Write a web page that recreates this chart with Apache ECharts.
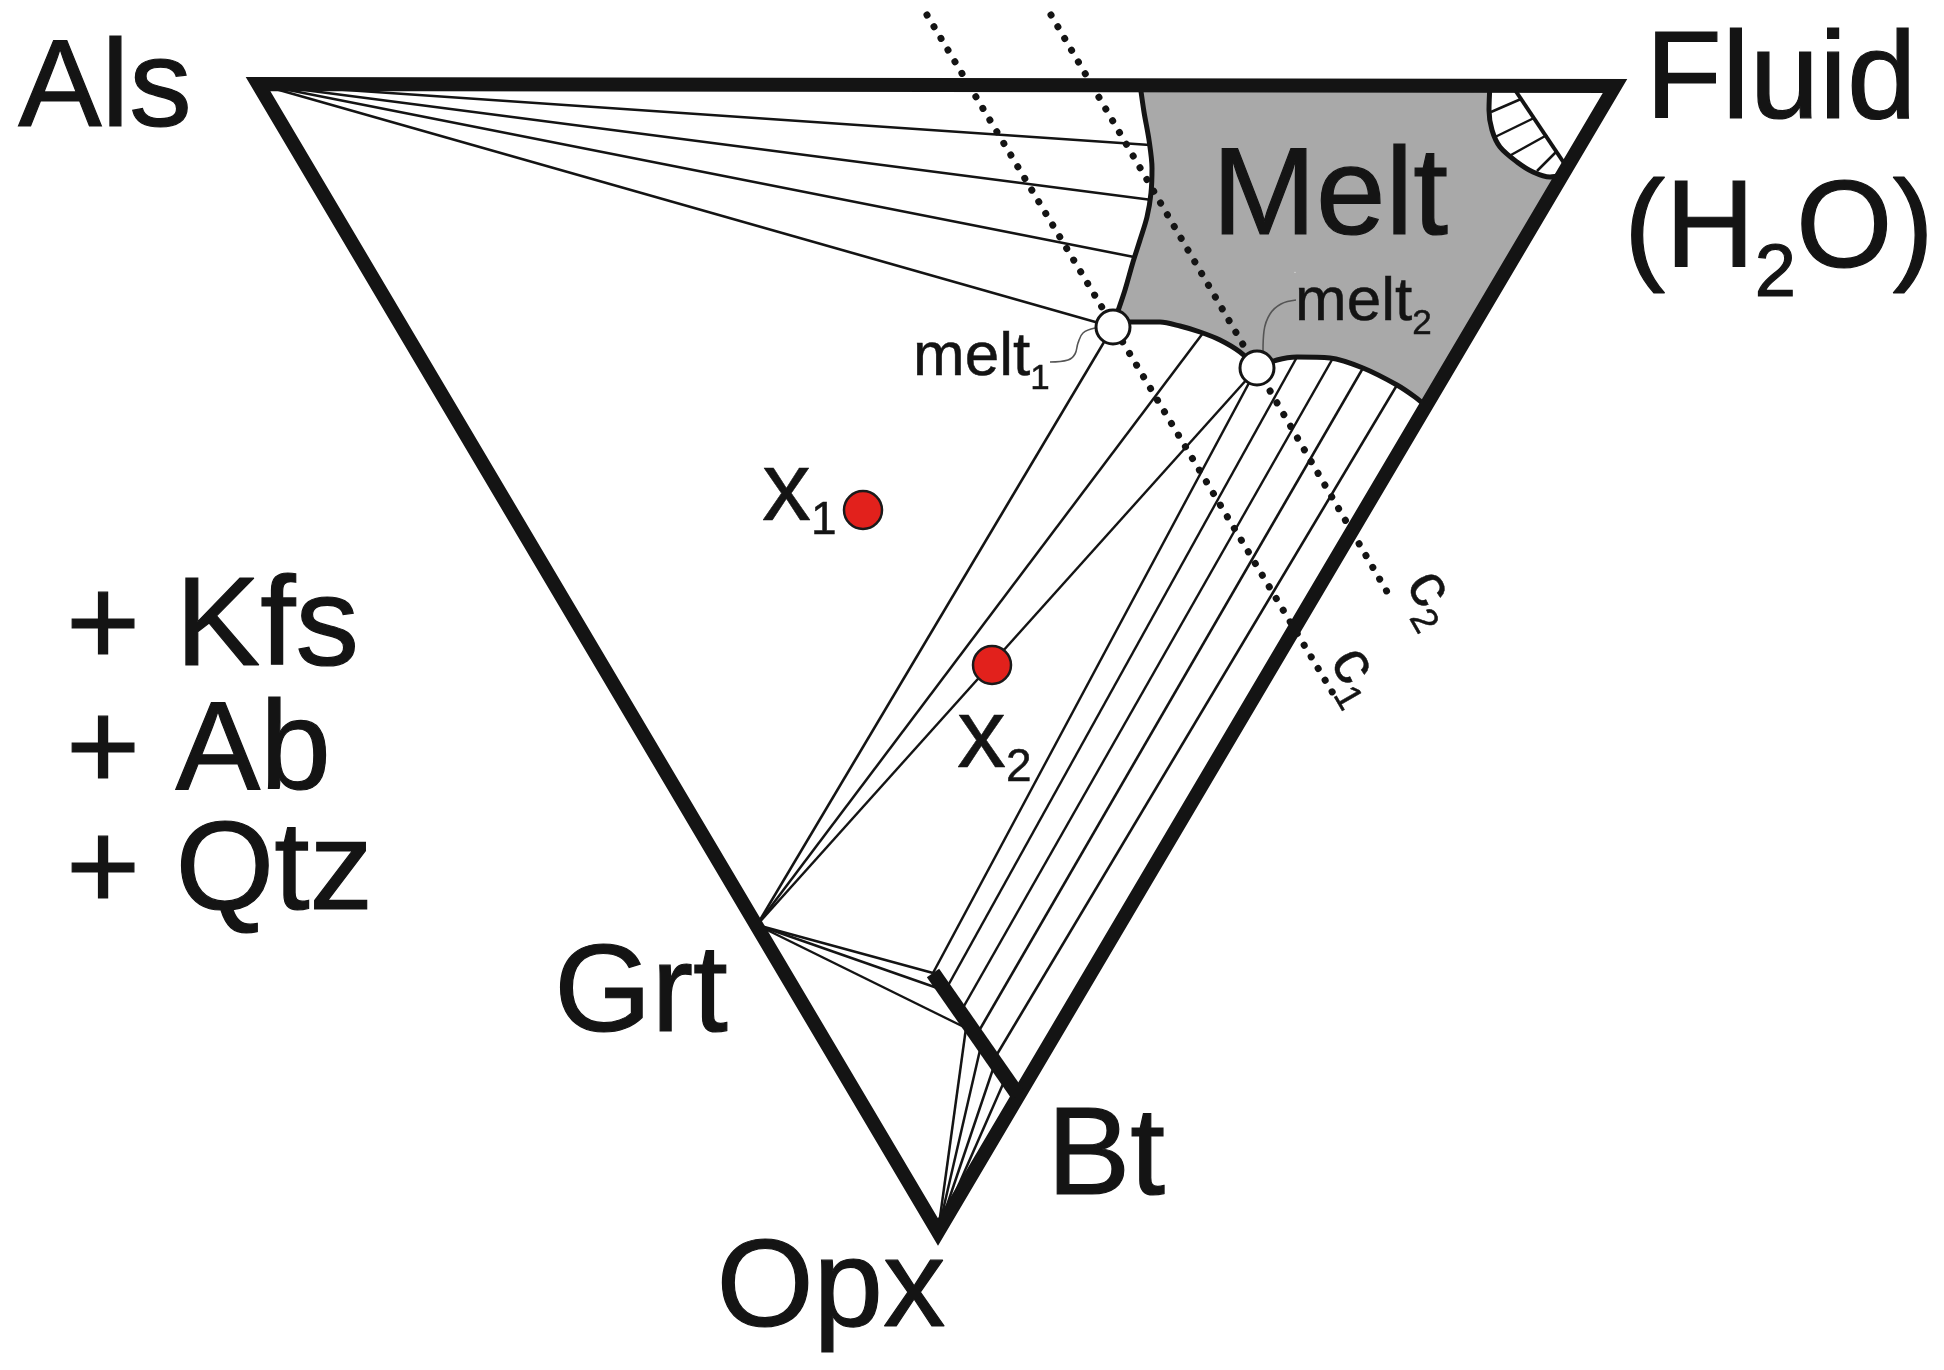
<!DOCTYPE html>
<html>
<head>
<meta charset="utf-8">
<title>Als - Fluid - Opx</title>
<script src="https://cdn.jsdelivr.net/npm/echarts/dist/echarts.min.js"></script>
<style>
html, body { margin: 0; padding: 0; background: #fff; }
#chart { width: 1944px; height: 1370px; }
</style>
</head>
<body>
<div id="chart"></div>
<script>
// diagram units = reference pixels, y axis runs downward
const triangle = [[258, 84], [1615, 86], [938, 1232]]; // Als, Fluid, Opx
const als = [258, 84];
const opx = [938, 1232];
const grt = [757, 925];
const melt1 = [1113, 327];
const melt2 = [1257, 368];
const btLine = [[933, 973], [1018, 1095]];
const samples = [[863, 510], [992, 665]]; // x1, x2

// melt field outline pieces
const meltLeft = [[1140, 84], [1144, 112], [1149, 140], [1152, 168], [1151, 193], [1147, 217], [1140, 240], [1133, 262], [1125, 290], [1117, 314], [1113, 327]];
const meltBottom1 = [[1113, 327], [1130, 322], [1160, 322], [1180, 326], [1200, 332], [1220, 340], [1240, 352], [1257, 368]];
const meltBottom2 = [[1257, 368], [1277, 360], [1297, 357], [1330, 358], [1363, 368], [1397, 385], [1415, 397], [1426, 406]];
const fluidArc = [[1490, 84], [1489, 110], [1492, 130], [1500, 147], [1517, 162], [1533, 172], [1550, 177], [1562, 175]];
const fluidChord = [[1511, 84], [1566, 166]];
const fluidHatch = [
    [[1491, 112], [1521, 99]],
    [[1495, 137], [1534, 118]],
    [[1511, 155], [1547, 135]],
    [[1537, 171], [1557, 151]]
];

// tie lines
const alsTieEnds = [[1150, 145], [1152, 200], [1134, 257], melt1];
const grtTieEnds = [melt1, [1203, 333], melt2, [933, 973], [943, 990], [966, 1028]];
const meltBtTies = [
    [melt2, [933, 973]],
    [[1297, 357], [945, 991]],
    [[1333, 358], [960, 1013]],
    [[1363, 368], [976, 1036]],
    [[1397, 385], [993, 1061]]
];
const opxTieEnds = [[966, 1028], [980, 1050], [993, 1069], [1003, 1084]];

// isopleths c1, c2
const isopleths = [[[927, 15], [1337, 700]], [[1051, 15], [1393, 602]]];

// leader lines for the melt labels
const melt1Leader = [[1050, 362], [1068, 360], [1075, 354], [1078, 343], [1083, 333], [1095, 328]];
const melt2Leader = [[1263, 351], [1264, 331], [1270, 314], [1281, 304], [1296, 300]];

// labels
const phaseNames = ['Als', 'Fluid', 'Melt', 'Grt', 'Bt', 'Opx'];
const phaseLabelAt = [[105, 92], [1781, 84], [1330, 200], [641, 997], [1106, 1160], [831, 1292]];
const excessPhases = ['+ Kfs', '+ Ab', '+ Qtz'];
const excessLabelAt = [[66, 630], [66, 754], [66, 874]];
const subNames = ['{m|(H}{s|2}{m|O)}', '{m|x}{s|1}', '{m|x}{s|2}', '{m|melt}{s|1}', '{m|melt}{s|2}'];
const subBaseAt = [[1624, 276], [762, 527], [957, 774], [913, 380], [1295, 325]];
const subSizes = [[124, 74, 25], [98, 46, 10], [98, 46, 10], [62, 35, 12], [62, 35, 12]];
const isoNames = ['{m|c}{s|1}', '{m|c}{s|2}'];
const isoLabelAt = [[1371, 637], [1447, 560]];

const INK = '#141414';
const FONT = '"Liberation Sans", Arial, Helvetica, sans-serif';

function subRich(F, f, d) {
    return {
        m: { fontSize: F, lineHeight: F, verticalAlign: 'top', fontFamily: FONT, color: INK },
        s: { fontSize: f, lineHeight: 2 * (0.85 * F + d - 0.35 * f), fontFamily: FONT, color: INK }
    };
}

function segs(list) {
    return list.map(c => ({ coords: c }));
}

const tieSegments = []
    .concat(alsTieEnds.map(p => [als, p]))
    .concat(grtTieEnds.map(p => [grt, p]))
    .concat(meltBtTies)
    .concat(opxTieEnds.map(p => [opx, p]));

const meltField = [].concat(
    fluidArc,
    meltBottom2.slice().reverse(),
    meltBottom1.slice().reverse(),
    meltLeft.slice().reverse()
);

// slightly heavier strokes than plain regular, like the scanned figure
const heavy = { textBorderColor: INK, textBorderWidth: 1.2 };
const light = { textBorderColor: INK, textBorderWidth: 0.5 };
const labelData = [];
phaseNames.forEach((n, i) => labelData.push({
    value: phaseLabelAt[i],
    label: Object.assign({ formatter: n, fontSize: 125, align: 'center', verticalAlign: 'middle' }, heavy)
}));
excessPhases.forEach((n, i) => labelData.push({
    value: excessLabelAt[i],
    label: Object.assign({ formatter: n, fontSize: 127, align: 'left', verticalAlign: 'middle' }, heavy)
}));
subNames.forEach((n, i) => {
    const [F, f, d] = subSizes[i];
    labelData.push({
        value: [subBaseAt[i][0], subBaseAt[i][1] - 0.85 * F],
        label: Object.assign(
            { formatter: n, rich: subRich(F, f, d), align: 'left', verticalAlign: 'top' },
            i === 0 ? heavy : light
        )
    });
});
isoNames.forEach((n, i) => labelData.push({
    value: isoLabelAt[i],
    label: Object.assign(
        { formatter: n, rich: subRich(62, 37, 12), align: 'left', verticalAlign: 'top', rotate: -60 },
        light
    )
}));

const chart = echarts.init(document.getElementById('chart'));

const option = {
    animation: false,
    backgroundColor: '#ffffff',
    textStyle: { fontFamily: FONT },
    grid: { left: 0, right: 0, top: 0, bottom: 0 },
    xAxis: { type: 'value', min: 0, max: 1944, show: false },
    yAxis: { type: 'value', min: 0, max: 1370, inverse: true, show: false },
    series: [
        {
            // melt field
            type: 'custom',
            z: 1,
            silent: true,
            data: [[0, 0]],
            renderItem: (params, api) => ({
                type: 'polygon',
                shape: { points: meltField.map(p => api.coord(p)) },
                style: { fill: '#a9a9a9', stroke: 'none' }
            })
        },
        {
            type: 'lines',
            coordinateSystem: 'cartesian2d',
            z: 2,
            silent: true,
            data: segs([fluidChord]),
            lineStyle: { color: INK, width: 4, opacity: 1 }
        },
        {
            type: 'lines',
            coordinateSystem: 'cartesian2d',
            z: 2,
            silent: true,
            data: segs(fluidHatch),
            lineStyle: { color: INK, width: 2.5, opacity: 1 }
        },
        {
            type: 'lines',
            coordinateSystem: 'cartesian2d',
            z: 3,
            silent: true,
            data: segs(tieSegments),
            lineStyle: { color: INK, width: 2.5, opacity: 1 }
        },
        {
            type: 'line', z: 3, silent: true, data: melt1Leader, showSymbol: false, smooth: 0.4,
            lineStyle: { color: '#555', width: 1.6 }
        },
        {
            type: 'line', z: 3, silent: true, data: melt2Leader, showSymbol: false, smooth: 0.4,
            lineStyle: { color: '#555', width: 1.6 }
        },
        {
            type: 'line', z: 4, silent: true, data: meltLeft, showSymbol: false, smooth: 0.3,
            lineStyle: { color: INK, width: 5 }
        },
        {
            type: 'line', z: 4, silent: true, data: meltBottom1, showSymbol: false, smooth: 0.3,
            lineStyle: { color: INK, width: 5 }
        },
        {
            type: 'line', z: 4, silent: true, data: meltBottom2, showSymbol: false, smooth: 0.3,
            lineStyle: { color: INK, width: 5 }
        },
        {
            type: 'line', z: 4, silent: true, data: fluidArc, showSymbol: false, smooth: 0.3,
            lineStyle: { color: INK, width: 5 }
        },
        {
            // c1, c2
            type: 'lines',
            coordinateSystem: 'cartesian2d',
            z: 5,
            silent: true,
            data: segs(isopleths),
            lineStyle: { color: INK, width: 7, type: [0.1, 13.5], cap: 'round', opacity: 1 }
        },
        {
            type: 'custom',
            z: 6,
            silent: true,
            data: [[0, 0]],
            renderItem: (params, api) => ({
                type: 'polygon',
                shape: { points: triangle.map(p => api.coord(p)) },
                style: { fill: 'none', stroke: INK, lineWidth: 14, lineJoin: 'miter' }
            })
        },
        {
            // biotite solid solution
            type: 'lines',
            coordinateSystem: 'cartesian2d',
            z: 6,
            silent: true,
            data: segs([btLine]),
            lineStyle: { color: INK, width: 15, opacity: 1 }
        },
        {
            type: 'scatter',
            z: 7,
            silent: true,
            data: [melt1, melt2],
            symbol: 'circle',
            symbolSize: 34,
            itemStyle: { color: '#ffffff', borderColor: INK, borderWidth: 3, opacity: 1 }
        },
        {
            type: 'scatter',
            z: 7,
            silent: true,
            data: samples,
            symbol: 'circle',
            symbolSize: 38,
            itemStyle: { color: '#e2211c', borderColor: '#1a1a1a', borderWidth: 2.5, opacity: 1 }
        },
        {
            type: 'scatter',
            z: 8,
            silent: true,
            data: labelData,
            symbolSize: 1,
            itemStyle: { color: '#ffffff', opacity: 1 },
            label: { show: true, position: 'inside', color: INK, opacity: 1, fontFamily: FONT }
        }
    ]
};

chart.setOption(option);
window.addEventListener('resize', function () {
    chart.resize();
});
</script>
</body>
</html>
